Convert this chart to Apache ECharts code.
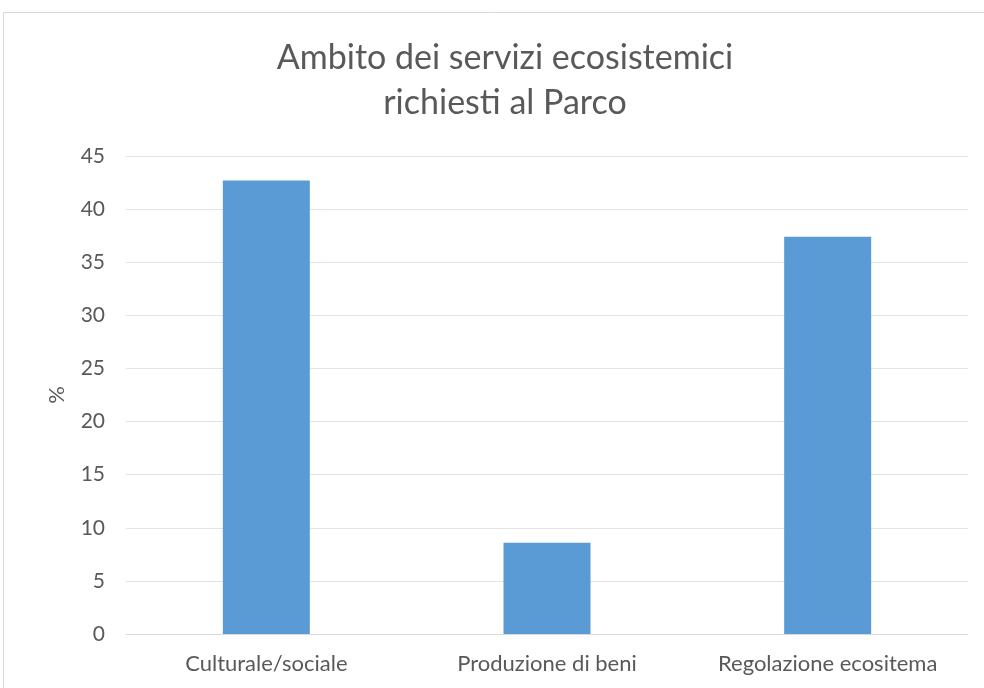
<!DOCTYPE html>
<html>
<head>
<meta charset="utf-8">
<script src="https://cdn.jsdelivr.net/npm/echarts@6/dist/echarts.min.js"></script>
<style>
  html, body { margin: 0; padding: 0; background: #fff; }
  #chart { width: 984px; height: 688px; }
</style>
</head>
<body>
<div id="chart"></div>
<script>
var categories = ['Culturale/sociale', 'Produzione di beni', 'Regolazione ecositema'];
var values = [42.7, 8.6, 37.4];
var yTicks = [0, 45, 5];

var chart = echarts.init(document.getElementById('chart'));
var txt = '#595959';
var font = 'Lato, sans-serif';

var option = {
    animation: false,
    backgroundColor: '#fff',
    graphic: [{
        type: 'rect',
        shape: { x: 3.5, y: 12.5, width: 990, height: 690 },
        style: { fill: 'none', stroke: '#d9d9d9', lineWidth: 1 }
    }],
    title: {
        text: 'Ambito dei servizi ecosistemici\nrichiesti al Parco',
        left: 500,
        textAlign: 'center',
        top: 31,
        textStyle: {
            color: txt,
            fontFamily: font,
            fontWeight: 'normal',
            fontSize: 34,
            lineHeight: 45
        }
    },
    grid: { left: 126, right: 16, top: 156, bottom: 54, containLabel: false },
    xAxis: {
        type: 'category',
        data: categories,
        axisLine: { lineStyle: { color: '#d9d9d9' } },
        axisTick: { show: false },
        axisLabel: { color: txt, fontFamily: font, fontSize: 22, margin: 19, interval: 0, hideOverlap: false }
    },
    yAxis: {
        type: 'value',
        min: yTicks[0],
        max: yTicks[1],
        interval: yTicks[2],
        name: '%',
        nameLocation: 'middle',
        nameGap: 58,
        nameTextStyle: { color: txt, fontFamily: font, fontSize: 22 },
        axisLine: { show: false },
        axisTick: { show: false },
        axisLabel: { color: txt, fontFamily: font, fontSize: 21, margin: 21, align: 'right' },
        splitLine: { lineStyle: { color: '#e3e3e3', width: 1 } }
    },
    series: [{
        type: 'bar',
        data: values,
        barWidth: '31%',
        itemStyle: { color: '#5b9bd5' }
    }]
};
chart.setOption(option);
</script>
</body>
</html>
